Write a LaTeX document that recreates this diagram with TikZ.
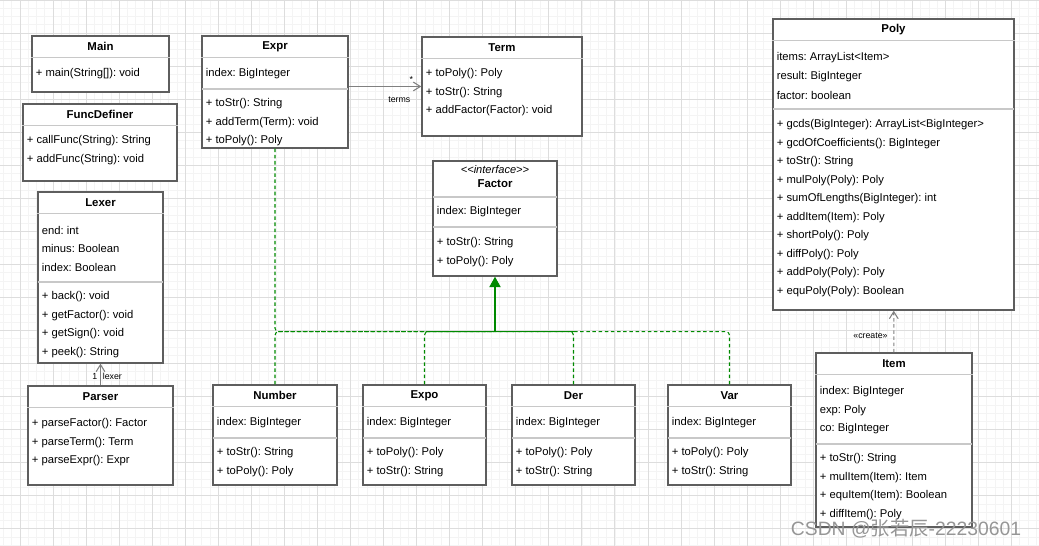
\documentclass[tikz,border=0pt]{standalone}
\usepackage{fontspec}
\setmainfont{Liberation Sans}
\newfontfamily\cjkfont{Noto Sans CJK SC}
\usetikzlibrary{arrows.meta,fit,calc}
\frenchspacing
\definecolor{boxline}{HTML}{5E5E5E}
\definecolor{sepgray}{HTML}{C8C8C8}
\definecolor{implgreen}{HTML}{008A00}
\definecolor{gridmajor}{HTML}{DDDDDD}
\definecolor{gridminor}{HTML}{F4F4F4}
\tikzset{%
  classbox/.style  = {draw=boxline, line width=0.8pt, fill=white, inner sep=0pt},%
  classtitle/.style = {font=\fontsize{6.5}{7}\selectfont\bfseries, inner sep=0pt},%
  stereo/.style    = {font=\fontsize{6.3}{7}\selectfont\itshape, inner sep=0pt},%
  member/.style    = {font=\fontsize{6.4}{7}\selectfont, anchor=west, inner sep=0pt},%
  sepline/.style   = {draw=sepgray, line width=0.6pt},%
  role/.style      = {font=\fontsize{5}{6}\selectfont, inner sep=0pt},%
  assoc/.style     = {draw=gray, line width=0.6pt, -{Straight Barb[length=4pt,width=5pt]}},%
  depend/.style    = {assoc, dash pattern=on 2pt off 1.5pt},%
  impl/.style      = {draw=implgreen, line width=0.6pt, dash pattern=on 2pt off 1.5pt, rounded corners=2pt},%
  realize/.style   = {draw=implgreen, line width=0.6pt, -{Triangle[length=6pt,width=6.5pt,fill=implgreen]}}%
}
% box, name row and first separator of a class
\newcommand{\umlclass}[6]{%
  \node[classbox, fit={(#2,#3) (#4,#5)}] (#1) {};
  \node[classtitle] (#1-name) at ($(#1.north)+(0,11)$) {#6};
  \draw[sepline] ($(#1.north west)+(0,22.5)$) -- ($(#1.north east)+(0,22.5)$);}
% rows of attributes or operations
\newcommand{\umlrows}[3]{%
  \foreach \memb [count=\rowno from 0] in {#3}
    \node[member] at (#1, #2+18.5*\rowno) {\memb};}

\begin{document}
\begin{tikzpicture}[x=0.02cm, y=-0.02cm]
  \fill[white] (0,0) rectangle (1039,546);
  \useasboundingbox (0,0) rectangle (1039,546);
  % grid
  \begin{scope}
    \clip (0,0) rectangle (1039,546);
    \foreach \g in {-2,...,125} \draw[gridminor, line width=0.35pt] (20+8.2625*\g,0) -- (20+8.2625*\g,546);
    \foreach \g in {0,...,66} \draw[gridminor, line width=0.35pt] (0,8.2625*\g) -- (1039,8.2625*\g);
    \foreach \g in {0,...,31} \draw[gridmajor, line width=0.5pt] (20+33.05*\g,0) -- (20+33.05*\g,546);
    \foreach \g in {0,...,16} \draw[gridmajor, line width=0.5pt] (0,33.05*\g) -- (1039,33.05*\g);
  \end{scope}

  % left column
  \umlclass{main}{32}{36}{169}{92}{Main}
  \umlrows{35.5}{74}{{+ main(String[]): void}}
  \umlclass{funcdef}{23}{104}{177}{181}{FuncDefiner}
  \umlrows{26.5}{141}{{+ callFunc(String): String},{+ addFunc(String): void}}
  \umlclass{lexer}{38}{192}{163}{363}{Lexer}
  \umlrows{41.5}{230}{{end: int},{minus: Boolean},{index: Boolean}}
  \draw[sepline] (38,282) -- (163,282);
  \umlrows{41.5}{297}{{+ back(): void},{+ getFactor(): void},{+ getSign(): void},{+ peek(): String}}
  \umlclass{parser}{28}{386}{173}{485}{Parser}
  \umlrows{31.5}{424}{{+ parseFactor(): Factor},{+ parseTerm(): Term},{+ parseExpr(): Expr}}

  % expression classes
  \umlclass{expr}{202}{36}{348}{148}{Expr}
  \umlrows{205.5}{74}{{index: BigInteger}}
  \draw[sepline] (202,89) -- (348,89);
  \umlrows{205.5}{104}{{+ toStr(): String},{+ addTerm(Term): void},{+ toPoly(): Poly}}
  \umlclass{term}{422}{37}{582}{136}{Term}
  \umlrows{425.5}{74}{{+ toPoly(): Poly},{+ toStr(): String},{+ addFactor(Factor): void}}

  \node[classbox, fit={(433,161) (557,276)}] (factor) {};
  \node[stereo] (factor-type) at ($(factor.north)+(0,9.5)$) {<{}<interface>{}>};
  \node[classtitle] (factor-name) at ($(factor.north)+(0,23)$) {Factor};
  \draw[sepline] (433,197) -- (557,197);
  \umlrows{436.5}{212}{{index: BigInteger}}
  \draw[sepline] (433,227) -- (557,227);
  \umlrows{436.5}{243}{{+ toStr(): String},{+ toPoly(): Poly}}

  \umlclass{number}{213}{385}{337}{485}{Number}
  \umlrows{216.5}{423}{{index: BigInteger}}
  \draw[sepline] (213,438) -- (337,438);
  \umlrows{216.5}{453}{{+ toStr(): String},{+ toPoly(): Poly}}
  \umlclass{expo}{363}{385}{486}{485}{Expo}
  \umlrows{366.5}{423}{{index: BigInteger}}
  \draw[sepline] (363,438) -- (486,438);
  \umlrows{366.5}{453}{{+ toPoly(): Poly},{+ toStr(): String}}
  \umlclass{der}{512}{385}{635}{485}{Der}
  \umlrows{515.5}{423}{{index: BigInteger}}
  \draw[sepline] (512,438) -- (635,438);
  \umlrows{515.5}{453}{{+ toPoly(): Poly},{+ toStr(): String}}
  \umlclass{var}{668}{385}{791}{485}{Var}
  \umlrows{671.5}{423}{{index: BigInteger}}
  \draw[sepline] (668,438) -- (791,438);
  \umlrows{671.5}{453}{{+ toPoly(): Poly},{+ toStr(): String}}

  % polynomial classes
  \umlclass{poly}{773}{19}{1014}{310}{Poly}
  \umlrows{776.5}{58}{{items: ArrayList<Item>},{result: BigInteger},{factor: boolean}}
  \draw[sepline] (773,109) -- (1014,109);
  \umlrows{776.5}{125}{{+ gcds(BigInteger): ArrayList<BigInteger>},{+ gcdOfCoefficients(): BigInteger},
    {+ toStr(): String},{+ mulPoly(Poly): Poly},{+ sumOfLengths(BigInteger): int},{+ addItem(Item): Poly},
    {+ shortPoly(): Poly},{+ diffPoly(): Poly},{+ addPoly(Poly): Poly},{+ equPoly(Poly): Boolean}}
  \umlclass{item}{816}{353}{972}{527}{Item}
  \umlrows{819.5}{392}{{index: BigInteger},{exp: Poly},{co: BigInteger}}
  \draw[sepline] (816,444) -- (972,444);
  \umlrows{819.5}{459}{{+ toStr(): String},{+ mulItem(Item): Item},{+ equItem(Item): Boolean},{+ diffItem(): Poly}}

  % associations
  \draw[assoc] (parser) -- (lexer);
  \node[role, anchor=east] (lexer-mult) at ($(lexer.south)+(-3,13)$) {1};
  \node[role, anchor=west] (lexer-role) at ($(lexer.south)+(2,13)$) {lexer};
  \draw[assoc] (expr.east |- term.west) -- (term.west);
  \node[role] (terms-mult) at ($(term.west)+(-10,-7)$) {*};
  \node[role] (terms-role) at ($(term.west)+(-22,13)$) {terms};
  \draw[depend] (item) -- (poly);
  \node[role] (create) at ($(poly.south)+(-23,25)$) {«create»};

  % realizations of Factor
  \coordinate (join) at ($(factor.south)+(0,55)$);
  \draw[impl] (expr.south) |- (join);
  \draw[impl] (number.north) |- (join);
  \draw[impl] (expo.north) |- (join);
  \draw[impl] (var.north) |- (join);
  \draw[impl] (der.north) |- (join);
  \draw[realize] (der.north |- join) -- (join) -- (factor.south);

  \node[font=\fontsize{11}{12}\selectfont, text={rgb,255:red,150;green,150;blue,150}, inner sep=0pt]
    (watermark) at (906,529) {CSDN @{\cjkfont 张若辰}-22230601};
\end{tikzpicture}
\end{document}
